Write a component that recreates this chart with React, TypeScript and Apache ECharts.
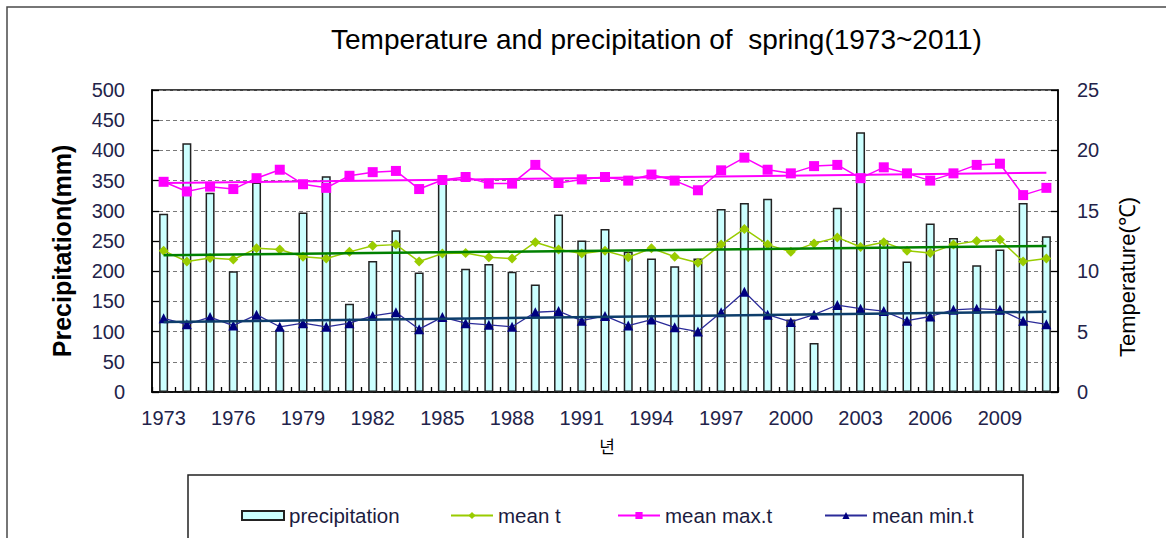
import React, { useEffect, useRef } from "react";
import * as echarts from "echarts";

const years = [
  "1973", "1974", "1975", "1976", "1977", "1978", "1979", "1980", "1981", "1982",
  "1983", "1984", "1985", "1986", "1987", "1988", "1989", "1990", "1991", "1992",
  "1993", "1994", "1995", "1996", "1997", "1998", "1999", "2000", "2001", "2002",
  "2003", "2004", "2005", "2006", "2007", "2008", "2009", "2010", "2011",
];

const precipitation = [
  295, 412, 330, 200, 347, 103, 297, 357, 146, 217,
  268, 198, 345, 204, 212, 199, 178, 294, 251, 270,
  232, 221, 208, 221, 303, 313, 320, 120, 81, 305,
  430, 251, 216, 279, 255, 210, 236, 313, 258,
];

const meanT = [
  11.7, 10.8, 11.1, 10.96, 11.9, 11.8, 11.2, 11.05, 11.6, 12.1,
  12.2, 10.8, 11.46, 11.5, 11.15, 11.05, 12.4, 11.8, 11.46, 11.7,
  11.15, 11.9, 11.2, 10.7, 12.2, 13.5, 12.2, 11.6, 12.3, 12.8,
  12.0, 12.4, 11.7, 11.5, 12.2, 12.5, 12.6, 10.8, 11.05,
];

const meanMaxT = [
  17.4, 16.6, 17.0, 16.8, 17.7, 18.4, 17.2, 16.9, 17.9, 18.2,
  18.3, 16.8, 17.55, 17.8, 17.25, 17.25, 18.8, 17.3, 17.6, 17.8,
  17.5, 18.0, 17.5, 16.7, 18.35, 19.4, 18.4, 18.1, 18.7, 18.8,
  17.7, 18.6, 18.1, 17.5, 18.1, 18.8, 18.9, 16.3, 16.9,
];

const meanMinT = [
  6.1, 5.6, 6.2, 5.5, 6.4, 5.4, 5.7, 5.4, 5.7, 6.3,
  6.6, 5.2, 6.2, 5.7, 5.56, 5.4, 6.6, 6.7, 5.9, 6.3,
  5.5, 6.0, 5.35, 5.0, 6.6, 8.3, 6.4, 5.8, 6.4, 7.2,
  6.9, 6.7, 5.9, 6.25, 6.8, 6.9, 6.8, 5.9, 5.6,
];

// trend line end values (first year, last year)
const meanTTrend = [11.32, 12.09];
const meanMaxTrend = [17.3, 18.15];
const meanMinTrend = [5.79, 6.64];

const leftTicks = { min: 0, max: 500, interval: 50 };
const rightTicks = { min: 0, max: 25, interval: 5 };

const legendNames = ["precipitation", "mean t", "mean max.t", "mean min.t"];

const FONT = "'Liberation Sans', Arial, sans-serif";
const LABEL_COLOR = "#23234a";

function trendData(v: number[]) {
  return [
    [years[0], v[0]],
    [years[years.length - 1], v[1]],
  ];
}

export default function App() {
  const ref = useRef<HTMLDivElement>(null);

  useEffect(() => {
    if (!ref.current) return;
    const chart = echarts.init(ref.current, undefined, { renderer: "svg" });
    const legendLefts = [241, 450, 617, 824];
    const legends = legendNames.map((name, i) => ({
      data: [i === 0 ? { name, icon: "rect" } : { name }],
      left: legendLefts[i],
      top: 505,
      padding: 0,
      itemWidth: 42,
      itemHeight: 9,
      itemGap: 5,
      textStyle: { fontFamily: FONT, fontSize: 20.5, color: "#1c1c40" },
    }));
    chart.setOption({
      animation: false,
      backgroundColor: "#ffffff",
      title: {
        text: "Temperature and precipitation of  spring(1973~2011)",
        left: 331,
        top: 25,
        padding: 0,
        textStyle: { fontFamily: FONT, fontSize: 28, fontWeight: "normal", color: "#000" },
      },
      grid: {
        left: 152,
        top: 90,
        right: 108,
        bottom: 146,
        show: true,
        borderColor: "#000",
        borderWidth: 1.5,
        backgroundColor: "transparent",
      },
      legend: legends,
      xAxis: {
        type: "category",
        data: years,
        axisLine: { show: true, lineStyle: { color: "#000", width: 1.5 } },
        axisTick: { show: true, inside: true, interval: 0, length: 5, lineStyle: { color: "#000", width: 1.3 } },
        axisLabel: { interval: 2, margin: 16, fontFamily: FONT, fontSize: 20, color: LABEL_COLOR },
        splitLine: { show: false },
      },
      yAxis: [
        {
          type: "value",
          min: leftTicks.min,
          max: leftTicks.max,
          interval: leftTicks.interval,
          axisLine: { show: true, lineStyle: { color: "#000", width: 1.5 } },
          axisTick: { show: true, inside: true, length: 7, lineStyle: { color: "#000", width: 1.3 } },
          axisLabel: { margin: 27, fontFamily: FONT, fontSize: 20, color: LABEL_COLOR },
          splitLine: { show: true, lineStyle: { color: "#7a7a7a", type: [4, 3], width: 1 } },
        },
        {
          type: "value",
          min: rightTicks.min,
          max: rightTicks.max,
          interval: rightTicks.interval,
          position: "right",
          axisLine: { show: true, lineStyle: { color: "#000", width: 1.5 } },
          axisTick: { show: true, inside: true, length: 7, lineStyle: { color: "#000", width: 1.3 } },
          axisLabel: { margin: 19, fontFamily: FONT, fontSize: 20, color: LABEL_COLOR },
          splitLine: { show: false },
        },
      ],
      series: [
        {
          name: "precipitation",
          type: "bar",
          data: precipitation,
          barWidth: 9,
          itemStyle: { color: "#ccffff", borderColor: "#222", borderWidth: 1.5 },
          z: 1,
        },
        {
          name: "mean t",
          type: "line",
          yAxisIndex: 1,
          data: meanT,
          symbol: "diamond",
          symbolSize: 10,
          lineStyle: { color: "#99cc00", width: 1.5 },
          itemStyle: { color: "#99cc00" },
          z: 3,
        },
        {
          name: "mean max.t",
          type: "line",
          yAxisIndex: 1,
          data: meanMaxT,
          symbol: "rect",
          symbolSize: 10,
          lineStyle: { color: "#ff00ff", width: 1.5 },
          itemStyle: { color: "#ff00ff" },
          z: 3,
        },
        {
          name: "mean min.t",
          type: "line",
          yAxisIndex: 1,
          data: meanMinT,
          symbol: "triangle",
          symbolSize: 10,
          lineStyle: { color: "#2b2b99", width: 1.3 },
          itemStyle: { color: "#000080" },
          z: 3,
        },
        {
          name: "mean t trend",
          type: "line",
          yAxisIndex: 1,
          data: trendData(meanTTrend),
          symbol: "none",
          lineStyle: { color: "#008000", width: 2.5 },
          z: 4,
        },
        {
          name: "mean max.t trend",
          type: "line",
          yAxisIndex: 1,
          data: trendData(meanMaxTrend),
          symbol: "none",
          lineStyle: { color: "#ff00ff", width: 2 },
          z: 4,
        },
        {
          name: "mean min.t trend",
          type: "line",
          yAxisIndex: 1,
          data: trendData(meanMinTrend),
          symbol: "none",
          lineStyle: { color: "#0d3d6b", width: 2.5 },
          z: 4,
        },
      ],
      graphic: [
        {
          type: "rect",
          shape: { x: 7, y: 7, width: 1300, height: 700 },
          style: { fill: "none", stroke: "#4a4a4a", lineWidth: 1.5 },
          silent: true,
          z: -1,
        },
        {
          type: "rect",
          shape: { x: 188, y: 475, width: 835, height: 120 },
          style: { fill: "none", stroke: "#222", lineWidth: 1.5 },
          silent: true,
        },
        {
          type: "text",
          x: 62,
          y: 251,
          rotation: Math.PI / 2,
          style: {
            text: "Precipitation(mm)",
            fontFamily: FONT,
            fontSize: 25,
            fontWeight: "bold",
            fill: "#000",
            align: "center",
            verticalAlign: "middle",
          },
        },
        {
          type: "text",
          x: 1127,
          y: 277,
          rotation: Math.PI / 2,
          style: {
            text: "Temperature(℃)",
            fontFamily: FONT,
            fontSize: 22,
            fill: "#000",
            align: "center",
            verticalAlign: "middle",
          },
        },
        {
          type: "text",
          x: 607,
          y: 445,
          style: {
            text: "년",
            fontFamily: "'Noto Sans CJK KR', sans-serif",
            fontSize: 17,
            fill: "#000",
            align: "center",
            verticalAlign: "middle",
          },
        },
      ],
    });
    return () => chart.dispose();
  }, []);

  return (
    <div
      ref={ref}
      style={{ position: "fixed", left: 0, top: 0, width: 1166, height: 538, background: "#fff" }}
    />
  );
}
